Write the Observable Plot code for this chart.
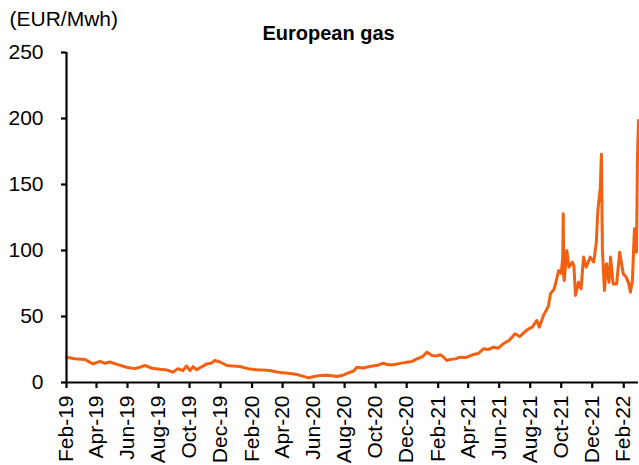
<!DOCTYPE html>
<html><head><meta charset="utf-8">
<script src="https://cdn.jsdelivr.net/npm/d3@7"></script>
<script src="https://cdn.jsdelivr.net/npm/@observablehq/plot@0.6"></script>
<style>body{margin:0;background:#fff}</style>
</head><body><div id="chart"></div>
<script>
const dates = [
"2019-02-01","2019-02-17","2019-03-09","2019-03-25","2019-04-08","2019-04-17","2019-04-27","2019-05-13","2019-05-30","2019-06-15",
"2019-06-25","2019-07-05","2019-07-19","2019-08-04","2019-08-17","2019-08-29","2019-09-08","2019-09-18","2019-09-25","2019-10-02",
"2019-10-08","2019-10-15","2019-10-23","2019-11-04","2019-11-12","2019-11-20","2019-11-30","2019-12-13","2019-12-25","2020-01-08",
"2020-01-24","2020-02-10","2020-02-22","2020-03-07","2020-03-21","2020-04-02","2020-04-16","2020-04-29","2020-05-09","2020-05-22",
"2020-06-02","2020-06-14","2020-06-29","2020-07-17","2020-07-29","2020-08-12","2020-08-18","2020-08-25","2020-09-06","2020-09-20",
"2020-10-04","2020-10-16","2020-10-26","2020-11-05","2020-11-18","2020-12-01","2020-12-12","2020-12-21","2021-01-01","2021-01-10",
"2021-01-20","2021-01-28","2021-02-05","2021-02-11","2021-02-18","2021-02-25","2021-03-07","2021-03-16","2021-03-28","2021-04-11",
"2021-04-21","2021-05-01","2021-05-10","2021-05-21","2021-05-30","2021-06-09","2021-06-21","2021-07-02","2021-07-12","2021-07-20",
"2021-07-29","2021-08-05","2021-08-14","2021-08-19","2021-08-27","2021-09-02","2021-09-06","2021-09-10","2021-09-16","2021-09-19",
"2021-09-23","2021-09-26","2021-10-01","2021-10-04","2021-10-05","2021-10-06","2021-10-07","2021-10-12","2021-10-16","2021-10-23",
"2021-10-26","2021-10-29","2021-11-04","2021-11-09","2021-11-14","2021-11-19","2021-11-27","2021-12-04","2021-12-09","2021-12-12",
"2021-12-17","2021-12-19","2021-12-21","2021-12-25","2021-12-29","2022-01-03","2022-01-06","2022-01-11","2022-01-18","2022-01-24",
"2022-01-31","2022-02-06","2022-02-11","2022-02-14","2022-02-18","2022-02-22","2022-02-26","2022-02-28","2022-03-02"
];
const prices = [
19.2,18.0,17.5,14.1,16.0,14.5,15.5,13.5,11.6,10.5,
11.5,12.9,10.8,10.0,9.5,7.8,10.5,9.0,12.5,9.0,
12.0,9.6,11.5,14.1,14.5,16.7,15.5,12.9,12.5,12.1,
10.5,9.6,9.5,9.1,8.0,7.3,6.8,6.1,5.0,3.5,
4.5,5.3,5.5,4.5,5.5,7.8,8.5,11.6,11.0,12.1,
13.0,14.6,13.4,13.4,14.5,15.4,16.0,17.9,19.5,23.0,
20.5,20.0,21.0,19.5,16.7,17.5,17.9,19.2,19.0,21.2,
22.0,25.5,25.0,26.7,26.0,29.3,32.0,36.9,34.8,38.0,
40.7,42.0,47.0,41.9,50.8,55.0,58.3,67.4,70.0,73.5,
80.0,84.8,82.6,95.0,127.8,80.0,77.3,100.0,87.4,91.2,
88.0,65.9,76.0,71.0,95.0,87.4,95.0,91.2,106.0,130.0,
148.0,173.0,100.0,69.7,90.0,76.0,95.0,74.7,74.7,98.7,
82.3,79.8,74.7,68.4,77.3,116.4,98.7,170.7,198.5
];
const tickDates = ["2019-02-01","2019-04-01","2019-06-01","2019-08-01","2019-10-01","2019-12-01","2020-02-01","2020-04-01","2020-06-01","2020-08-01","2020-10-01","2020-12-01","2021-02-01","2021-04-01","2021-06-01","2021-08-01","2021-10-01","2021-12-01","2022-02-01"];
const tickLabels = ["Feb-19","Apr-19","Jun-19","Aug-19","Oct-19","Dec-19","Feb-20","Apr-20","Jun-20","Aug-20","Oct-20","Dec-20","Feb-21","Apr-21","Jun-21","Aug-21","Oct-21","Dec-21","Feb-22"];
const yTicks = [0, 50, 100, 150, 200, 250];
const unitLabel = "(EUR/Mwh)";
const title = "European gas";

const data = dates.map((d, i) => ({date: new Date(d), value: prices[i]}));
const ticks = tickDates.map(d => new Date(d));
const labelMap = new Map(ticks.map((d, i) => [+d, tickLabels[i]]));
const xStart = new Date("2019-02-01");
const xEnd = new Date("2022-03-02");

const chart = Plot.plot({
  width: 639, height: 465,
  marginLeft: 66, marginRight: 1, marginTop: 52, marginBottom: 83,
  style: {fontFamily: "'Liberation Sans', Arial, sans-serif", fontSize: "21px", color: "#000", background: "#fff", overflow: "visible"},
  x: {type: "utc", domain: [xStart, xEnd]},
  y: {domain: [0, 250]},
  marks: [
    Plot.axisY({ticks: yTicks, tickSize: 5, tickPadding: 18, strokeWidth: 2.2, label: null, fontSize: 21}),
    Plot.axisX({ticks: ticks, tickFormat: d => labelMap.get(+d), tickRotate: -90, tickSize: 6, tickPadding: 7, strokeWidth: 2.2, label: null, fontSize: 21}),
    Plot.line(data, {x: "date", y: "value", stroke: "#f4600f", strokeWidth: 3}),
    Plot.ruleX([xStart], {stroke: "#000", strokeWidth: 2.2}),
    Plot.ruleY([0], {stroke: "#000", strokeWidth: 2.2}),
    Plot.text([unitLabel], {frameAnchor: "top-left", text: d => d, textAnchor: "start", lineAnchor: "bottom", dx: -57, dy: -27, fontSize: 21}),
    Plot.text([title], {frameAnchor: "top", text: d => d, lineAnchor: "bottom", fontWeight: "bold", dx: -24, dy: -13, fontSize: 20})
  ]
});
document.getElementById("chart").append(chart);
</script>
</body></html>
